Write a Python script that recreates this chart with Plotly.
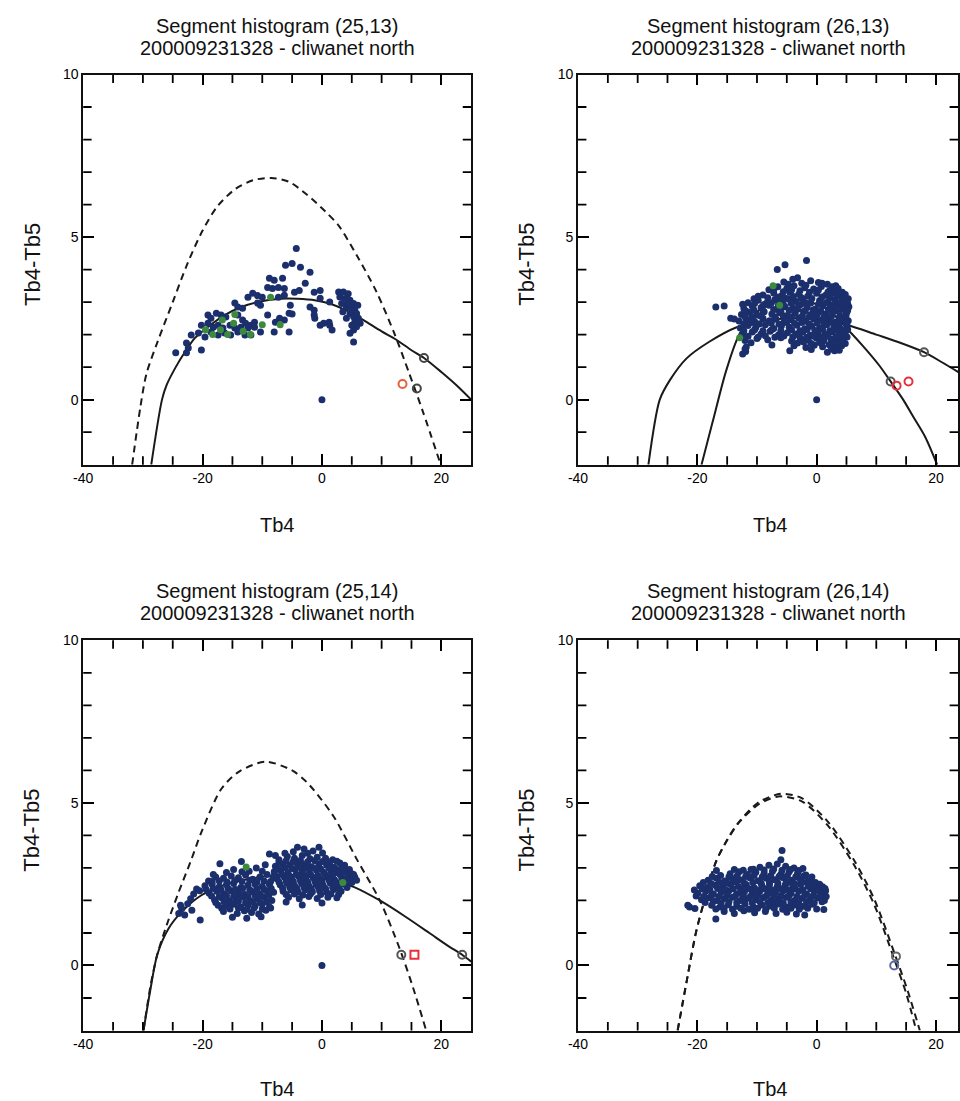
import plotly.graph_objects as go

W, H = 960, 1101
FONT = "Liberation Sans, Arial, Helvetica, sans-serif"

# ---------------- text ----------------
titles = ["Segment histogram (25,13)", "Segment histogram (26,13)",
          "Segment histogram (25,14)", "Segment histogram (26,14)"]
subtitle = "200009231328 - cliwanet north"
x_label = "Tb4"
y_label = "Tb4-Tb5"
x_major = [-40, -20, 0, 20]
y_major = [0, 5, 10]
x_minor = [-35, -30, -25, -15, -10, -5, 5, 10, 15]
y_minor = [-1, 1, 2, 3, 4, 6, 7, 8, 9]

# ---------------- panel 1 (25,13) ----------------
p1_dashed = [(-31.8, -2), (-30.4, -0.2), (-29.4, 0.8), (-27.5, 1.8), (-25.0, 3.0), (-22.5, 4.2),
             (-20.0, 5.2), (-17.5, 5.95), (-14.5, 6.48), (-11.5, 6.75), (-8.5, 6.82), (-5.5, 6.7),
             (-2.5, 6.3), (0.5, 5.8), (2.8, 5.35), (5.8, 4.45), (9.1, 3.33), (12.1, 2.05),
             (14.6, 0.82), (16.9, -0.36), (19.9, -2)]
p1_solid = [(-28.6, -2), (-26.8, 0), (-26.0, 0.46), (-24.5, 1.0), (-22.9, 1.48), (-21.3, 1.89),
            (-19.0, 2.25), (-16.3, 2.6), (-13.5, 2.85), (-10.8, 3.0), (-7.0, 3.1), (-4.1, 3.1),
            (-1.0, 3.05), (1.4, 2.95), (4.0, 2.75), (6.9, 2.45), (10.0, 2.1), (12.4, 1.85),
            (15.0, 1.52), (17.1, 1.28), (20.0, 0.85), (22.5, 0.45), (25.0, 0.0)]
p1_dark = [(-4.3, 4.65), (-6.1, 4.13), (-5.0, 4.19), (-3.6, 4.07), (-2.0, 3.92), (-8.8, 3.73), (-8.0, 3.67),
           (-6.6, 3.73), (-9.1, 3.45), (-8.3, 3.42), (-7.3, 3.45), (-6.3, 3.42), (-2.8, 3.58), (-10.8, 3.2),
           (-10.0, 3.15), (-12.4, 3.15), (-11.6, 3.27), (-0.3, 3.36), (-1.3, 3.3), (-4.6, 3.3), (-3.8, 3.36),
           (-7.3, 3.15), (-6.3, 3.21), (-0.3, 3.12), (1.3, 3.0), (-14.6, 2.97), (-14.1, 2.85), (-13.3, 2.81),
           (-10.8, 2.97), (-10.3, 2.9), (-5.3, 2.9), (-2.0, 2.85), (-1.3, 2.75), (-17.7, 2.66), (-16.9, 2.6),
           (-16.1, 2.54), (-19.1, 2.6), (-18.6, 2.5), (-14.1, 2.6), (-13.3, 2.45), (-12.8, 2.35), (-11.9, 2.29),
           (-11.3, 2.38), (-9.1, 2.6), (-7.1, 2.5), (-5.5, 2.66), (-5.0, 2.63), (-7.8, 2.38), (-6.3, 2.45),
           (-8.0, 2.08), (-5.5, 2.08), (-1.3, 2.6), (-1.2, 2.5), (-0.3, 2.29), (0.3, 2.35), (1.3, 2.29),
           (1.7, 2.14), (1.2, 2.38),
           (-20.2, 2.29), (-19.1, 2.35), (-18.2, 2.23), (-17.4, 2.29), (-16.6, 2.2), (-15.4, 2.29), (-14.6, 2.2),
           (-13.6, 2.23), (-12.4, 2.2), (-11.3, 2.23),
           (-21.9, 1.99), (-20.7, 2.05), (-19.6, 1.93), (-18.6, 2.08), (-17.4, 1.99), (-16.3, 2.05), (-15.3, 1.99),
           (-14.1, 2.08), (-12.9, 1.99), (-11.9, 1.99), (-10.3, 2.08),
           (-22.7, 1.74), (-22.4, 1.59), (-20.2, 1.53), (-24.5, 1.44), (-22.7, 1.44),
           (2.8, 3.31), (3.6, 3.31), (4.4, 3.26), (3.0, 3.16), (3.9, 3.11), (4.7, 3.06), (5.3, 2.96), (3.3, 2.96),
           (4.1, 2.85), (5.0, 2.80), (5.5, 2.75), (5.8, 2.65), (4.7, 2.65), (5.3, 2.55), (6.1, 2.5), (4.1, 2.5),
           (5.5, 2.39), (6.4, 2.35), (5.0, 2.29), (5.8, 2.24), (5.3, 2.14), (4.7, 2.04), (5.3, 1.77), (3.5, 2.7),
           (4.4, 2.95), (6.0, 2.9), (0.0, 0.0)]
p1_green = [(-19.5, 2.15), (-18.3, 2.0), (-17.0, 2.15), (-15.8, 2.0), (-14.8, 2.35), (-13.2, 2.1),
            (-12.0, 2.0), (-10.0, 2.3), (-8.6, 3.15), (-14.6, 2.62), (-16.7, 2.45), (-7.0, 2.3)]
p1_grey_open = [(17.1, 1.28), (15.9, 0.34)]
p1_red_open = [(13.5, 0.48)]

# ---------------- panel 2 (26,13) ----------------
p2_solid_a = [(-28.2, -2), (-26.3, 0), (-24.6, 0.6), (-21.8, 1.27), (-18.0, 1.78), (-13.5, 2.22),
              (-9.0, 2.42), (-4.0, 2.5), (1.0, 2.45), (5.3, 2.29), (10.0, 2.0), (14.0, 1.75),
              (18.0, 1.46), (21.0, 1.15), (24.0, 0.82)]
p2_solid_b = [(-19.3, -2), (-17.4, -0.66), (-15.2, 0.87), (-13.0, 1.99), (-10.0, 2.7), (-6.0, 3.05),
              (-2.0, 3.05), (2.0, 2.75), (5.3, 2.14), (8.0, 1.6), (10.5, 1.05), (12.4, 0.56),
              (14.5, 0.0), (16.3, -0.56), (18.2, -1.15), (20.2, -2)]
p2_dark = [(-5.5, 3.62), (-4.0, 3.70), (-2.5, 3.58), (-1.0, 3.66), (0.3, 3.60), (1.8, 3.55), (3.2, 3.50), (-3.2, 3.75),
           (-8.0, 3.38), (-6.5, 3.47), (-5.0, 3.42), (-3.8, 3.50), (-2.0, 3.44), (-0.5, 3.40), (0.8, 3.48), (2.2, 3.36),
           (3.6, 3.42), (4.3, 3.30),
           (-10.5, 3.10), (-9.0, 3.22), (-7.2, 3.28), (-5.8, 3.20), (-4.5, 3.30), (-3.0, 3.24), (-1.5, 3.18),
           (0.0, 3.27), (1.5, 3.21), (2.6, 3.29), (3.9, 3.19), (4.8, 3.23),
           (-11.5, 2.98), (-9.8, 3.06), (-8.5, 2.96), (-7.0, 3.08), (-6.0, 3.00), (-4.8, 3.10), (-3.5, 3.02),
           (-2.3, 3.09), (-1.0, 2.97), (0.5, 3.05), (1.9, 3.00), (3.1, 3.08), (4.2, 3.02), (5.2, 2.95),
           (-12.2, 2.80), (-10.8, 2.88), (-9.3, 2.83), (-8.0, 2.90), (-6.6, 2.78), (-5.3, 2.86), (-4.0, 2.82),
           (-2.8, 2.91), (-1.6, 2.84), (-0.2, 2.79), (1.0, 2.88), (2.3, 2.83), (3.5, 2.90), (4.6, 2.81), (5.4, 2.86),
           (-12.6, 2.62), (-11.2, 2.68), (-10.0, 2.60), (-8.8, 2.70), (-7.5, 2.63), (-6.2, 2.67), (-5.0, 2.58),
           (-3.6, 2.66), (-2.2, 2.71), (-1.0, 2.61), (0.3, 2.68), (1.6, 2.64), (2.8, 2.70), (3.9, 2.59), (5.0, 2.66),
           (-13.0, 2.42), (-11.8, 2.48), (-10.4, 2.40), (-9.0, 2.50), (-7.9, 2.43), (-6.8, 2.47), (-5.5, 2.38),
           (-4.3, 2.46), (-3.0, 2.51), (-1.8, 2.41), (-0.5, 2.48), (0.8, 2.44), (2.0, 2.50), (3.2, 2.39),
           (4.4, 2.46), (5.3, 2.43),
           (-12.8, 2.20), (-11.5, 2.28), (-10.2, 2.22), (-8.6, 2.30), (-7.2, 2.19), (-5.9, 2.27), (-4.6, 2.23),
           (-3.3, 2.29), (-2.0, 2.18), (-0.8, 2.26), (0.5, 2.21), (1.7, 2.30), (2.9, 2.24), (4.0, 2.19), (5.1, 2.27),
           (-12.5, 2.00), (-10.8, 2.08), (-9.3, 2.02), (-7.8, 2.10), (-6.4, 1.99), (-4.9, 2.06), (-3.5, 2.02),
           (-2.3, 2.09), (-1.1, 1.98), (0.2, 2.05), (1.4, 2.01), (2.6, 2.08), (3.7, 2.00), (4.8, 2.06),
           (-12.0, 1.82), (-10.0, 1.88), (-8.2, 1.84), (-6.0, 1.90), (-4.2, 1.80), (-2.7, 1.87), (-1.4, 1.83),
           (0.0, 1.89), (1.2, 1.81), (2.4, 1.86), (3.5, 1.82), (4.5, 1.88),
           (-11.8, 1.62), (-7.5, 1.68), (-3.8, 1.66), (-1.8, 1.60), (-0.4, 1.67), (1.0, 1.63), (2.1, 1.69),
           (3.3, 1.61), (4.2, 1.66),
           (-12.4, 1.40), (-11.9, 1.48), (-4.5, 1.50), (1.8, 1.46), (3.8, 1.52),
           (-1.7, 4.28), (-6.6, 4.0), (-5.3, 4.15), (-16.9, 2.85), (-15.5, 2.88), (-14.4, 2.5), (-13.8, 2.48),
           (0.0, 0.0)]
p2_dark_fill = [(-4.8, 3.55), (-1.8, 3.52), (0.9, 3.58), (2.6, 3.47),
                (-7.2, 3.36), (-5.6, 3.32), (-4.2, 3.38), (-2.8, 3.35), (-1.2, 3.30), (0.3, 3.37), (1.9, 3.31),
                (3.0, 3.34), (4.0, 3.28),
                (-9.8, 3.18), (-8.2, 3.13), (-6.4, 3.16), (-5.2, 3.12), (-3.9, 3.17), (-2.6, 3.14), (-0.8, 3.11),
                (0.9, 3.16), (2.2, 3.13), (3.4, 3.18), (4.4, 3.12), (5.3, 3.10),
                (-12.4, 2.93), (-10.4, 2.96), (-8.9, 2.92), (-7.6, 2.97), (-6.4, 2.91), (-5.6, 2.94), (-4.3, 2.97),
                (-3.0, 2.92), (-1.9, 2.96), (0.3, 2.93), (1.5, 2.97), (2.7, 2.92), (3.9, 2.96), (4.9, 2.91),
                (-11.8, 2.72), (-10.5, 2.76), (-9.0, 2.73), (-7.2, 2.77), (-6.0, 2.71), (-4.6, 2.74), (-3.2, 2.78),
                (-1.9, 2.73), (-0.6, 2.76), (0.7, 2.72), (2.0, 2.77), (3.2, 2.73), (4.2, 2.77), (5.2, 2.74),
                (-12.0, 2.55), (-10.8, 2.52), (-9.4, 2.57), (-7.0, 2.54), (-5.6, 2.58), (-4.2, 2.53), (-2.4, 2.57),
                (-1.3, 2.54), (0.0, 2.58), (1.2, 2.53), (2.5, 2.57), (3.8, 2.52), (4.9, 2.56),
                (-12.2, 2.33), (-10.9, 2.37), (-9.6, 2.33), (-7.6, 2.36), (-6.3, 2.32), (-5.0, 2.37), (-3.7, 2.34),
                (-2.5, 2.37), (-1.2, 2.32), (0.1, 2.36), (1.3, 2.33), (2.6, 2.37), (3.7, 2.32), (4.9, 2.36),
                (-12.2, 2.12), (-10.4, 2.15), (-9.0, 2.12), (-7.5, 2.16), (-6.0, 2.13), (-4.2, 2.15), (-2.8, 2.12),
                (-1.6, 2.16), (-0.3, 2.13), (1.0, 2.16), (2.2, 2.12), (3.3, 2.15), (4.3, 2.12), (5.2, 2.16),
                (-11.5, 1.95), (-9.8, 1.93), (-8.6, 1.96), (-7.0, 1.92), (-5.5, 1.96), (-4.0, 1.93), (-2.9, 1.96),
                (-1.7, 1.92), (-0.5, 1.95), (0.8, 1.93), (1.9, 1.96), (3.2, 1.92), (4.2, 1.95), (5.1, 1.93),
                (-11.0, 1.75), (-3.2, 1.74), (-2.2, 1.77), (-0.9, 1.73), (0.5, 1.76), (2.7, 1.74), (3.7, 1.77),
                (4.8, 1.73), (-12.0, 1.56), (-0.9, 1.54), (2.5, 1.56), (3.0, 1.50)]
p2_green = [(-7.3, 3.5), (-12.9, 1.9), (-6.2, 2.9)]
p2_grey_open = [(18.0, 1.46), (12.4, 0.56)]
p2_red_open = [(13.4, 0.43), (15.4, 0.56)]

# ---------------- panel 3 (25,14) ----------------
p3_dashed = [(-29.9, -2), (-28.7, -0.6), (-27.6, 0.33), (-26.0, 1.25), (-24.0, 2.26), (-22.0, 3.2),
             (-20.2, 4.1), (-16.9, 5.42), (-14.0, 5.95), (-9.5, 6.27), (-5.0, 6.0), (-2.5, 5.63),
             (1.9, 4.6), (5.8, 3.28), (9.7, 2.0), (13.0, 0.53), (15.3, -0.7), (17.4, -1.96)]
p3_solid = [(-29.9, -2), (-28.8, -0.8), (-27.6, 0.33), (-25.7, 1.14), (-23.5, 1.65), (-20.2, 2.16),
            (-16.0, 2.5), (-11.0, 2.7), (-6.0, 2.8), (-1.0, 2.7), (2.0, 2.6), (5.3, 2.42), (9.7, 2.0),
            (14.0, 1.5), (18.0, 1.0), (21.0, 0.62), (23.5, 0.33), (25.0, 0.12)]
p3_dark = [(-24.0, 1.6), (-23.5, 1.75), (-23.0, 1.55), (-22.5, 1.9), (-22.0, 2.05), (-21.5, 2.2), (-21.0, 2.35),
           (-20.5, 2.3), (-20.4, 1.4), (-21.8, 1.7), (-23.7, 1.85),
           (-17.1, 3.13), (-13.5, 3.2), (-11.0, 3.0), (-9.5, 3.1), (-14.8, 2.95), (-12.2, 2.9),
           (-19.0, 2.6), (-17.8, 2.72), (-16.5, 2.68), (-15.2, 2.75), (-14.0, 2.7), (-12.8, 2.78), (-11.6, 2.65),
           (-10.4, 2.72), (-9.2, 2.8), (-8.2, 2.7),
           (-19.6, 2.45), (-18.4, 2.5), (-17.2, 2.42), (-16.0, 2.48), (-14.8, 2.52), (-13.6, 2.4), (-12.4, 2.47),
           (-11.2, 2.5), (-10.0, 2.43), (-8.8, 2.49),
           (-18.9, 2.22), (-17.6, 2.28), (-16.4, 2.2), (-15.2, 2.3), (-14.0, 2.24), (-12.9, 2.18), (-11.7, 2.27),
           (-10.5, 2.21), (-9.3, 2.3), (-8.1, 2.25),
           (-18.0, 2.02), (-16.8, 2.08), (-15.6, 2.0), (-14.4, 2.06), (-13.2, 2.1), (-12.0, 1.99), (-10.8, 2.05),
           (-9.6, 2.09), (-8.4, 2.0),
           (-17.4, 1.85), (-16.0, 1.82), (-14.8, 1.88), (-13.6, 1.8), (-12.4, 1.86), (-11.2, 1.83), (-10.0, 1.89),
           (-8.8, 1.8),
           (-16.5, 1.66), (-14.2, 1.6), (-13.0, 1.68), (-11.8, 1.63), (-10.6, 1.58), (-9.4, 1.7),
           (-15.0, 1.48), (-12.6, 1.45), (-10.2, 1.5),
           (-4.1, 3.64), (-0.5, 3.64), (-3.0, 3.58), (-8.8, 3.43), (-1.5, 3.52),
           (-7.2, 3.25), (-5.8, 3.35), (-4.6, 3.3), (-3.3, 3.38), (-2.0, 3.28), (-0.8, 3.33), (0.6, 3.3),
           (1.8, 3.25), (3.0, 3.15),
           (-7.8, 3.05), (-6.6, 3.12), (-5.4, 3.08), (-4.2, 3.15), (-3.0, 3.1), (-1.8, 3.04), (-0.5, 3.12),
           (0.8, 3.08), (2.0, 3.02), (3.3, 2.98),
           (-8.0, 2.88), (-6.9, 2.92), (-5.7, 2.86), (-4.5, 2.95), (-3.3, 2.9), (-2.1, 2.84), (-0.9, 2.93),
           (0.3, 2.87), (1.5, 2.91), (2.7, 2.85), (3.9, 2.88), (5.0, 2.82),
           (-7.5, 2.66), (-6.3, 2.72), (-5.1, 2.68), (-3.9, 2.74), (-2.7, 2.65), (-1.5, 2.71), (-0.3, 2.67),
           (0.9, 2.73), (2.1, 2.64), (3.3, 2.7), (4.5, 2.66), (5.5, 2.72),
           (-7.0, 2.48), (-5.8, 2.53), (-4.6, 2.46), (-3.4, 2.52), (-2.2, 2.45), (-1.0, 2.5), (0.2, 2.47),
           (1.4, 2.54), (2.6, 2.44), (3.8, 2.5), (5.0, 2.55),
           (-6.5, 2.28), (-5.2, 2.32), (-4.0, 2.26), (-2.8, 2.33), (-1.6, 2.27), (-0.4, 2.3), (0.8, 2.25),
           (2.0, 2.34), (3.2, 2.28),
           (-5.6, 2.1), (-3.8, 2.05), (-2.2, 2.12), (-0.8, 2.06), (1.0, 2.1), (2.5, 2.08),
           (-3.3, 1.86), (-6.0, 1.95), (0.0, 1.92),
           (0.0, 0.0)]
p3_dark_fill = [(-18.4, 2.58), (-17.2, 2.6), (-15.9, 2.57), (-14.6, 2.61), (-13.4, 2.58), (-12.1, 2.62),
                (-10.9, 2.57), (-9.7, 2.6), (-8.6, 2.58),
                (-19.4, 2.34), (-18.2, 2.37), (-16.9, 2.33), (-15.7, 2.36), (-14.5, 2.34), (-13.3, 2.37),
                (-12.1, 2.33), (-10.9, 2.36), (-9.7, 2.34), (-8.5, 2.37),
                (-18.5, 2.14), (-17.2, 2.12), (-16.0, 2.15), (-14.8, 2.13), (-13.7, 2.16), (-12.4, 2.12),
                (-11.2, 2.15), (-10.1, 2.13), (-8.9, 2.16),
                (-17.8, 1.94), (-16.4, 1.96), (-15.2, 1.93), (-14.0, 1.97), (-12.8, 1.93), (-11.6, 1.96),
                (-10.4, 1.94), (-9.2, 1.96),
                (-16.8, 1.76), (-15.4, 1.74), (-14.0, 1.77), (-12.6, 1.73), (-11.4, 1.76), (-10.0, 1.74), (-8.6, 1.77),
                (-16.0, 2.86), (-13.4, 2.88), (-10.0, 2.9), (-18.2, 2.8),
                (-6.2, 3.45), (-4.8, 3.5), (-2.4, 3.45), (0.1, 3.46), (-7.8, 3.38),
                (-7.2, 3.18), (-6.0, 3.22), (-4.8, 3.2), (-3.6, 3.23), (-2.4, 3.19), (-1.2, 3.22), (0.1, 3.2),
                (1.3, 3.18), (2.5, 3.21), (3.8, 3.08),
                (-7.4, 2.98), (-6.2, 3.01), (-5.0, 2.98), (-3.8, 3.02), (-2.6, 2.99), (-1.4, 3.0), (-0.2, 2.97),
                (1.2, 3.0), (2.4, 2.96), (3.6, 2.98), (4.6, 2.95),
                (-7.9, 2.79), (-6.7, 2.8), (-5.5, 2.77), (-4.3, 2.81), (-3.1, 2.78), (-1.9, 2.8), (-0.7, 2.77),
                (0.5, 2.8), (1.8, 2.78), (3.0, 2.81), (4.3, 2.77), (5.3, 2.8),
                (-7.2, 2.57), (-6.0, 2.6), (-4.8, 2.58), (-3.6, 2.61), (-2.4, 2.57), (-1.2, 2.6), (0.0, 2.58),
                (1.2, 2.62), (2.4, 2.56), (3.6, 2.6), (4.8, 2.58), (5.8, 2.62),
                (-6.6, 2.38), (-5.4, 2.41), (-4.2, 2.37), (-3.0, 2.4), (-1.8, 2.36), (-0.6, 2.41), (0.6, 2.37),
                (1.8, 2.4), (2.9, 2.37), (4.2, 2.4),
                (-6.0, 2.18), (-4.6, 2.2), (-3.2, 2.17), (-1.9, 2.21), (-0.2, 2.18), (1.5, 2.2), (2.8, 2.18)]
p3_green = [(-12.7, 3.03), (3.5, 2.55)]
p3_grey_open = [(13.3, 0.33), (23.5, 0.33)]
p3_red_square = [(15.5, 0.33)]

# ---------------- panel 4 (26,14) ----------------
p4_dashed_a = [(-23.3, -2), (-21.8, -0.5), (-20.2, 1.04), (-18.5, 2.2), (-16.9, 3.18), (-15.0, 3.85),
               (-13.0, 4.4), (-9.7, 4.96), (-6.4, 5.2), (-2.5, 5.05), (1.9, 4.3), (6.4, 3.05),
               (9.7, 1.85), (13.0, 0.2), (15.0, -0.85), (16.7, -2)]
p4_dashed_b = [(-23.3, -2), (-21.8, -0.5), (-20.2, 1.04), (-18.5, 2.2), (-16.9, 3.18), (-15.0, 3.87),
               (-13.0, 4.42), (-9.7, 5.02), (-6.0, 5.28), (-2.5, 5.15), (1.9, 4.42), (6.4, 3.2),
               (9.7, 2.02), (13.0, 0.4), (15.3, -0.8), (17.3, -2)]
p4_dark = [(-9.5, 3.02), (-8.0, 3.08), (-6.6, 3.12), (-5.2, 3.05), (-3.8, 3.0), (-11.0, 2.95), (-6.0, 3.25),
           (-2.3, 2.98),
           (-14.5, 2.82), (-13.0, 2.88), (-11.6, 2.8), (-10.2, 2.87), (-8.8, 2.84), (-7.4, 2.9), (-6.0, 2.81),
           (-4.6, 2.88), (-3.2, 2.83), (-1.8, 2.78), (-16.8, 2.92),
           (-18.2, 2.62), (-16.8, 2.68), (-15.4, 2.6), (-14.0, 2.67), (-12.6, 2.63), (-11.2, 2.7), (-9.8, 2.61),
           (-8.4, 2.68), (-7.0, 2.64), (-5.6, 2.7), (-4.2, 2.62), (-2.8, 2.67), (-1.4, 2.6), (-0.2, 2.55),
           (-19.6, 2.45), (-18.3, 2.4), (-17.0, 2.47), (-15.7, 2.42), (-14.4, 2.5), (-13.1, 2.43), (-11.8, 2.48),
           (-10.5, 2.4), (-9.2, 2.46), (-7.9, 2.5), (-6.6, 2.42), (-5.3, 2.47), (-4.0, 2.41), (-2.7, 2.49),
           (-1.4, 2.44), (-0.1, 2.38), (1.0, 2.42),
           (-19.9, 2.22), (-18.6, 2.28), (-17.3, 2.2), (-16.0, 2.26), (-14.7, 2.3), (-13.4, 2.21), (-12.1, 2.27),
           (-10.8, 2.23), (-9.5, 2.29), (-8.2, 2.2), (-6.9, 2.26), (-5.6, 2.3), (-4.3, 2.22), (-3.0, 2.28),
           (-1.7, 2.2), (-0.4, 2.27), (0.8, 2.22), (1.5, 2.3),
           (-19.3, 2.02), (-18.0, 2.08), (-16.7, 2.0), (-15.4, 2.06), (-14.1, 2.1), (-12.8, 2.0), (-11.5, 2.07),
           (-10.2, 2.02), (-8.9, 2.09), (-7.6, 2.01), (-6.3, 2.06), (-5.0, 2.1), (-3.7, 2.0), (-2.4, 2.07),
           (-1.1, 2.02), (0.2, 2.08), (1.3, 2.0),
           (-17.6, 1.85), (-16.2, 1.8), (-14.8, 1.87), (-13.4, 1.82), (-12.0, 1.88), (-10.6, 1.8), (-9.2, 1.86),
           (-7.8, 1.83), (-6.4, 1.89), (-5.0, 1.8), (-3.6, 1.86), (-2.2, 1.82), (-0.8, 1.88), (1.2, 1.72),
           (-15.5, 1.66), (-13.8, 1.6), (-12.2, 1.68), (-10.4, 1.62), (-8.6, 1.66), (-6.8, 1.6), (-5.0, 1.64),
           (-3.4, 1.58),
           (-21.3, 1.8), (-20.4, 1.75), (-16.9, 1.43), (-5.8, 3.54), (-2.0, 1.55), (-21.6, 1.85),
           (-8.5, 2.35), (-10.0, 2.15), (-7.2, 1.95), (-12.5, 2.35), (-4.8, 2.55), (-6.0, 2.15)]
p4_dark_fill = [(-13.8, 2.95), (-12.3, 2.93), (-10.6, 2.96), (-8.8, 2.94), (-7.2, 2.97), (-5.8, 2.93),
                (-4.4, 2.95), (-3.0, 2.92),
                (-17.5, 2.74), (-16.1, 2.77), (-14.7, 2.73), (-13.3, 2.76), (-11.9, 2.74), (-10.5, 2.77),
                (-9.1, 2.73), (-7.7, 2.76), (-6.3, 2.74), (-4.9, 2.77), (-3.5, 2.73), (-2.1, 2.76), (-0.8, 2.72),
                (-19.0, 2.55), (-17.7, 2.52), (-16.3, 2.56), (-14.9, 2.53), (-13.5, 2.57), (-12.1, 2.53),
                (-10.7, 2.56), (-9.3, 2.53), (-7.9, 2.57), (-6.5, 2.54), (-5.1, 2.56), (-3.7, 2.52), (-2.3, 2.56),
                (-0.9, 2.53), (0.5, 2.5),
                (-20.5, 2.32), (-19.2, 2.36), (-17.9, 2.33), (-16.6, 2.37), (-15.3, 2.33), (-14.0, 2.36),
                (-12.7, 2.33), (-11.4, 2.37), (-10.1, 2.33), (-8.8, 2.36), (-7.5, 2.33), (-6.2, 2.37), (-4.9, 2.33),
                (-3.6, 2.36), (-2.3, 2.33), (-1.0, 2.36), (0.3, 2.33), (1.4, 2.37),
                (-20.2, 2.14), (-18.9, 2.12), (-17.6, 2.16), (-16.3, 2.13), (-15.0, 2.16), (-13.7, 2.12),
                (-12.4, 2.15), (-11.1, 2.12), (-9.8, 2.16), (-8.5, 2.13), (-7.2, 2.16), (-5.9, 2.12), (-4.6, 2.15),
                (-3.3, 2.12), (-2.0, 2.16), (-0.7, 2.13), (0.6, 2.15), (1.6, 2.12),
                (-18.7, 1.94), (-17.3, 1.97), (-16.0, 1.93), (-14.7, 1.96), (-13.4, 1.93), (-12.1, 1.97),
                (-10.8, 1.93), (-9.5, 1.96), (-8.2, 1.93), (-6.9, 1.97), (-5.6, 1.93), (-4.3, 1.96), (-3.0, 1.93),
                (-1.7, 1.96), (-0.4, 1.93), (0.9, 1.96),
                (-16.9, 1.74), (-15.5, 1.77), (-14.1, 1.73), (-12.7, 1.76), (-11.3, 1.73), (-9.9, 1.76),
                (-8.5, 1.73), (-7.1, 1.76), (-5.7, 1.73), (-4.3, 1.76), (-2.9, 1.73), (-1.5, 1.76), (0.0, 1.74)]
p4_grey_open = [(13.3, 0.28)]
p4_blue_open = [(13.0, 0.0)]

# ---------------- layout geometry (pixels) ----------------
LEFT_X = (74, 466)
RIGHT_X = (574, 958)
TOP_Y = (67, 460)
BOT_Y = (637, 1030)
X_RANGE_L = [-40, 25]
X_RANGE_R = [-40, 23.7]
Y_RANGE = [-2, 10]

NAVY = "#1b2f6c"
GREEN = "#3c8a3c"


def xd(a, b):
    return [a / W, b / W]


def yd(a, b):
    return [1 - b / H, 1 - a / H]


def unz(pts):
    return [p[0] for p in pts], [p[1] for p in pts]


fig = go.Figure()

panels = [
    dict(ax="", xr=X_RANGE_L, lines=[(p1_dashed, "dash"), (p1_solid, "solid")],
         pts=[(p1_dark, NAVY), (p1_green, GREEN)],
         opens=[(p1_grey_open, "circle-open", "#444444"), (p1_red_open, "circle-open", "#e8603a")]),
    dict(ax="2", xr=X_RANGE_R, lines=[(p2_solid_a, "solid"), (p2_solid_b, "solid")],
         pts=[(p2_dark, NAVY), (p2_dark_fill, NAVY), (p2_green, GREEN)],
         opens=[(p2_grey_open, "circle-open", "#555555"), (p2_red_open, "circle-open", "#e8303a")]),
    dict(ax="3", xr=X_RANGE_L, lines=[(p3_dashed, "dash"), (p3_solid, "solid")],
         pts=[(p3_dark, NAVY), (p3_dark_fill, NAVY), (p3_green, GREEN)],
         opens=[(p3_grey_open, "circle-open", "#555555"), (p3_red_square, "square-open", "#e8303a")]),
    dict(ax="4", xr=X_RANGE_R, lines=[(p4_dashed_a, "dash"), (p4_dashed_b, "dash")],
         pts=[(p4_dark, NAVY), (p4_dark_fill, NAVY)],
         opens=[(p4_grey_open, "circle-open", "#666666"), (p4_blue_open, "circle-open", "#5a6aa0")]),
]

for p in panels:
    xa, ya = "x" + p["ax"], "y" + p["ax"]
    for pts, style in p["lines"]:
        xs, ys = unz(pts)
        fig.add_trace(go.Scatter(
            x=xs, y=ys, xaxis=xa, yaxis=ya, mode="lines",
            line=dict(color="#1a1a1a", width=2, shape="spline", smoothing=0.8,
                      dash="7px,5px" if style == "dash" else "solid"),
            showlegend=False, hoverinfo="skip"))
    for pts, col in p["pts"]:
        xs, ys = unz(pts)
        fig.add_trace(go.Scatter(
            x=xs, y=ys, xaxis=xa, yaxis=ya, mode="markers",
            marker=dict(symbol="circle", size=7, color=col, line=dict(width=0)),
            showlegend=False))
    for pts, sym, col in p["opens"]:
        xs, ys = unz(pts)
        fig.add_trace(go.Scatter(
            x=xs, y=ys, xaxis=xa, yaxis=ya, mode="markers",
            marker=dict(symbol=sym, size=8, color=col, line=dict(width=2, color=col)),
            showlegend=False))
    # minor tick marks on all four sides (half of each marker is clipped by the plot area)
    x0, x1 = p["xr"]
    y0, y1 = Y_RANGE
    fig.add_trace(go.Scatter(
        x=x_minor + x_minor, y=[y0] * len(x_minor) + [y1] * len(x_minor),
        xaxis=xa, yaxis=ya, mode="markers", cliponaxis=True,
        marker=dict(symbol="line-ns", size=12, line=dict(width=1.8, color="black")),
        showlegend=False, hoverinfo="skip"))
    fig.add_trace(go.Scatter(
        x=[x0] * len(y_minor) + [x1] * len(y_minor), y=y_minor + y_minor,
        xaxis=xa, yaxis=ya, mode="markers", cliponaxis=True,
        marker=dict(symbol="line-ew", size=12, line=dict(width=1.8, color="black")),
        showlegend=False, hoverinfo="skip"))


def base_axis():
    return dict(ticks="inside", tickcolor="black", showline=True, linewidth=1.8,
                linecolor="#111111", mirror="ticks", showgrid=False, zeroline=False,
                tickfont=dict(family=FONT, size=14, color="black"))


def xaxis(dom, rng, anchor):
    d = base_axis()
    d.update(domain=dom, range=rng, anchor=anchor, tickmode="array", tickvals=x_major,
             ticktext=[str(v) for v in x_major], ticklen=11, tickwidth=2)
    return d


def yaxis(dom, anchor):
    d = base_axis()
    d.update(domain=dom, range=Y_RANGE, anchor=anchor, tickmode="array", tickvals=y_major,
             ticktext=[str(v) for v in y_major], ticklen=11, tickwidth=2)
    return d


fig.update_layout(
    width=W, height=H, margin=dict(l=0, r=0, t=0, b=0),
    paper_bgcolor="white", plot_bgcolor="white",
    showlegend=False,
    xaxis=xaxis(xd(*LEFT_X), X_RANGE_L, "y"),
    yaxis=yaxis(yd(*TOP_Y), "x"),
    xaxis2=xaxis(xd(*RIGHT_X), X_RANGE_R, "y2"),
    yaxis2=yaxis(yd(*TOP_Y), "x2"),
    xaxis3=xaxis(xd(*LEFT_X), X_RANGE_L, "y3"),
    yaxis3=yaxis(yd(*BOT_Y), "x3"),
    xaxis4=xaxis(xd(*RIGHT_X), X_RANGE_R, "y4"),
    yaxis4=yaxis(yd(*BOT_Y), "x4"),
)

annots = []
title_pos = [(270, 18), (766, 18), (270, 587), (766, 587)]
xlab_pos = [(270, 521), (768, 521), (270, 1089), (768, 1089)]
ylab_pos = [(22, 258), (522, 258), (22, 828), (522, 828)]
for i in range(4):
    tx, ty = title_pos[i]
    annots.append(dict(x=tx / W, y=1 - ty / H, xref="paper", yref="paper",
                       text=titles[i], showarrow=False, xanchor="center", yanchor="middle",
                       font=dict(family=FONT, size=20, color="#111111")))
    annots.append(dict(x=tx / W, y=1 - (ty + 22) / H, xref="paper", yref="paper",
                       text=subtitle, showarrow=False, xanchor="center", yanchor="middle",
                       font=dict(family=FONT, size=20, color="#111111")))
    lx, ly = xlab_pos[i]
    annots.append(dict(x=lx / W, y=1 - ly / H, xref="paper", yref="paper",
                       text=x_label, showarrow=False, xanchor="center", yanchor="middle",
                       font=dict(family=FONT, size=20, color="#111111")))
    vx, vy = ylab_pos[i]
    annots.append(dict(x=vx / W, y=1 - vy / H, xref="paper", yref="paper",
                       text=y_label, showarrow=False, textangle=-90,
                       xanchor="center", yanchor="middle",
                       font=dict(family=FONT, size=22, color="#111111")))
fig.update_layout(annotations=annots)

fig.write_html("out.html")
